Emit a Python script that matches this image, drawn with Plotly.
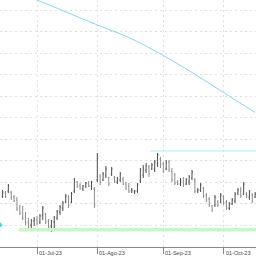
import pandas as pd
import plotly.graph_objects as go

# ---- data ----
dates = pd.bdate_range("2023-06-15", periods=89).strftime("%Y-%m-%d").tolist()

high = [6.0, 5.9, 6.6, 5.9, 5.5, 5.3, 4.5, 4.4, 3.8, 3.2, 3.1, 3.3, 3.4, 3.6, 4.4, 3.7, 3.1, 3.0, 3.4, 4.0,
        4.5, 4.9, 5.6, 5.5, 5.8, 7.2, 6.9, 6.7, 6.5, 6.8, 6.9, 6.9, 6.3, 9.7, 7.6, 7.8, 8.4, 7.3, 8.3, 7.4,
        7.3, 7.8, 7.3, 6.8, 6.7, 6.2, 6.0, 6.7, 8.2, 8.5, 8.7, 8.5, 8.7, 9.0, 9.7, 9.3, 8.8, 9.0, 9.0, 8.2,
        7.7, 7.0, 7.2, 7.3, 7.2, 7.5, 8.0, 7.2, 6.2, 6.7, 6.3, 5.7, 5.3, 4.5, 5.5, 5.0, 5.7, 5.5, 5.0, 4.8,
        5.2, 5.8, 6.2, 6.3, 6.8, 5.8, 6.0, 5.7, 5.8]
low = [5.2, 5.2, 5.7, 5.0, 4.8, 3.9, 3.5, 3.0, 2.5, 2.2, 2.0, 2.4, 2.5, 2.6, 3.0, 2.6, 2.1, 1.8, 2.2, 3.0,
       3.5, 3.9, 4.7, 4.2, 4.7, 5.7, 6.2, 6.0, 5.9, 6.2, 6.3, 6.0, 4.2, 6.8, 6.5, 6.9, 7.2, 6.4, 7.4, 6.7,
       6.6, 6.8, 6.5, 6.0, 5.7, 5.7, 5.6, 5.7, 6.7, 7.2, 7.7, 7.3, 8.0, 7.8, 8.3, 8.2, 7.7, 8.0, 7.8, 6.8,
       6.5, 6.5, 6.4, 6.3, 6.5, 6.5, 7.0, 5.7, 5.7, 5.8, 5.2, 4.8, 4.3, 3.8, 4.3, 4.3, 4.7, 4.5, 4.0, 4.0,
       4.5, 4.7, 5.5, 5.2, 5.5, 5.2, 5.0, 4.7, 5.2]
open_ = [5.4, 5.7, 5.9, 5.8, 5.3, 5.0, 4.2, 3.8, 3.4, 2.8, 2.5, 2.9, 3.0, 2.8, 3.5, 3.6, 2.9, 2.4, 2.8, 3.2,
         3.8, 4.2, 4.8, 5.3, 4.8, 5.9, 6.8, 6.4, 6.1, 6.4, 6.6, 6.4, 6.1, 7.0, 7.4, 7.0, 7.5, 7.2, 7.6, 7.2,
         6.8, 7.0, 7.1, 6.6, 6.4, 5.9, 5.8, 5.9, 6.9, 7.5, 8.0, 8.3, 8.1, 8.1, 8.6, 9.1, 8.6, 8.1, 8.8, 7.9,
         7.5, 6.8, 6.6, 6.8, 6.6, 6.8, 7.2, 7.0, 5.9, 6.0, 6.2, 5.5, 5.1, 4.4, 4.5, 4.8, 4.8, 5.3, 4.8, 4.2,
         4.6, 4.9, 5.7, 5.9, 5.6, 5.6, 5.3, 5.5, 5.3]
close = [5.8, 5.4, 6.4, 5.2, 4.9, 4.1, 3.7, 3.2, 2.7, 2.4, 2.9, 3.1, 2.7, 3.4, 4.2, 2.8, 2.3, 2.9, 3.3, 3.9,
         4.3, 4.7, 5.4, 4.5, 5.6, 7.0, 6.4, 6.2, 6.4, 6.7, 6.4, 6.8, 4.5, 9.2, 6.8, 7.6, 8.1, 6.6, 8.1, 6.9,
         7.1, 7.6, 6.6, 6.2, 5.9, 6.0, 5.9, 6.5, 8.0, 8.2, 8.4, 7.6, 8.5, 8.8, 9.5, 8.5, 7.9, 8.8, 8.0, 7.0,
         6.7, 6.6, 7.0, 6.5, 7.0, 7.3, 7.8, 5.9, 6.0, 6.5, 5.4, 5.0, 4.5, 4.0, 5.3, 4.5, 5.5, 4.7, 4.2, 4.6,
         5.0, 5.6, 6.0, 5.4, 6.6, 5.4, 5.8, 4.9, 5.6]

# long moving average (sampled at bar positions)
ma_idx = [8, 12, 21, 33, 44, 56, 66, 77, 88]
ma_val = [25.47, 25.0, 23.94, 22.5, 21.25, 19.45, 17.75, 15.75, 13.75]

# horizontal levels
resistance_level = 9.9
resistance_start = 51.4
support_level = 2.03
support_start = 5.7
signal_idx = [-1.3]
signal_val = [2.5]

tick_labels = ["01-Jul-23", "01-Ago-23", "01-Sep-23", "01-Oct-23"]
tick_dates = ["2023-07-03", "2023-08-01", "2023-09-01", "2023-10-02"]

# ---- figure ----
x = list(range(len(dates)))
tick_pos = [dates.index(d) for d in tick_dates]
x_end = len(dates) + 1

fig = go.Figure()

fig.add_trace(go.Scatter(x=[support_start, x_end], y=[support_level, support_level], mode="lines",
                         line=dict(color="#c6f7c6", width=3.5), hoverinfo="skip"))
fig.add_trace(go.Scatter(x=[resistance_start, x_end], y=[resistance_level, resistance_level], mode="lines",
                         line=dict(color="#aeeefa", width=1), hoverinfo="skip"))
fig.add_trace(go.Scatter(x=ma_idx, y=ma_val, mode="lines", line_shape="spline",
                         line=dict(color="#86d6f2", width=1), hoverinfo="skip"))
fig.add_trace(go.Ohlc(x=x, open=open_, high=high, low=low, close=close,
                      increasing=dict(line=dict(color="#4d4d4d", width=1)),
                      decreasing=dict(line=dict(color="#8c8c8c", width=1)),
                      tickwidth=0.3))
fig.add_trace(go.Scatter(x=signal_idx, y=signal_val, mode="markers",
                         marker=dict(symbol="diamond", size=6, color="#3fd6e6"), hoverinfo="skip"))

for pos, lab in zip(tick_pos, tick_labels):
    fig.add_annotation(x=pos, xref="x", y=0, yref="paper", text=lab, showarrow=False,
                       xanchor="left", yanchor="top", xshift=0, yshift=-1,
                       font=dict(family="Liberation Sans", size=5.5, color="#444444"))

fig.update_layout(
    width=256, height=256, margin=dict(l=0, r=0, t=0, b=9),
    paper_bgcolor="white", plot_bgcolor="white", showlegend=False,
)
fig.update_xaxes(type="linear", range=[-0.906, 88.3], tickvals=tick_pos, showticklabels=False,
                 ticks="outside", ticklen=6, tickcolor="#888888", tickwidth=1,
                 showline=True, linecolor="#888888", linewidth=1,
                 showgrid=True, gridcolor="#e0e0e0", griddash="2px,3px", gridwidth=1,
                 zeroline=False, rangeslider_visible=False)
fig.update_yaxes(range=[0.3, 25.0], tick0=2.5, dtick=2.15, showticklabels=False,
                 showgrid=True, gridcolor="#e0e0e0", griddash="2px,3px", gridwidth=1,
                 zeroline=False, showline=False)

fig.write_html("out.html")
